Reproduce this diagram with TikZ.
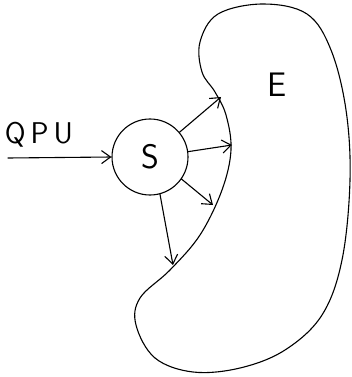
\documentclass[tikz,border=0pt]{standalone}
\usetikzlibrary{arrows.meta}
\begin{document}
\begin{tikzpicture}[x=1pt,y=-1pt,
  ink/.style={line width=1.1pt,line cap=round,line join=round},
  arr/.style={ink,-{Straight Barb[length=9pt,width=13pt]}},
  lbl/.style={font=\sffamily\fontsize{34}{34}\selectfont}]
\useasboundingbox (0,0) rectangle (352,377);
% blob E
\draw[ink] plot[smooth cycle,tension=0.6] coordinates {
 (263,4) (307,14) (331,50) (346,110) (350,180) (342,260) (322,315)
 (285,350) (240,368) (193,372) (155,358) (136,325) (140,298) (170,270)
 (200,235) (222,190) (231,150) (226,115) (215,92) (202,72) (200,42) (218,14)};
\node[lbl] (E) at (277,85) {E};
% source S
\node[ink,draw,circle,minimum size=76pt,inner sep=0pt,lbl] (S) at (150,157) {S};
\node[font=\sffamily\fontsize{30}{30}\selectfont] (Q) at (39,135) {Q\,P\,U};
\coordinate (qin) at (8,158);
\draw[arr] (qin) -- (S.west);
% emitted arrows
\coordinate (t1) at (221,97);
\coordinate (t2) at (232,145);
\coordinate (t3) at (213,205);
\coordinate (t4) at (173,265);
\draw[arr] (S.40) -- (t1);
\draw[arr] (S.8) -- (t2);
\draw[arr] (S.-35) -- (t3);
\draw[arr] (S.-75) -- (t4);
\end{tikzpicture}
\end{document}
